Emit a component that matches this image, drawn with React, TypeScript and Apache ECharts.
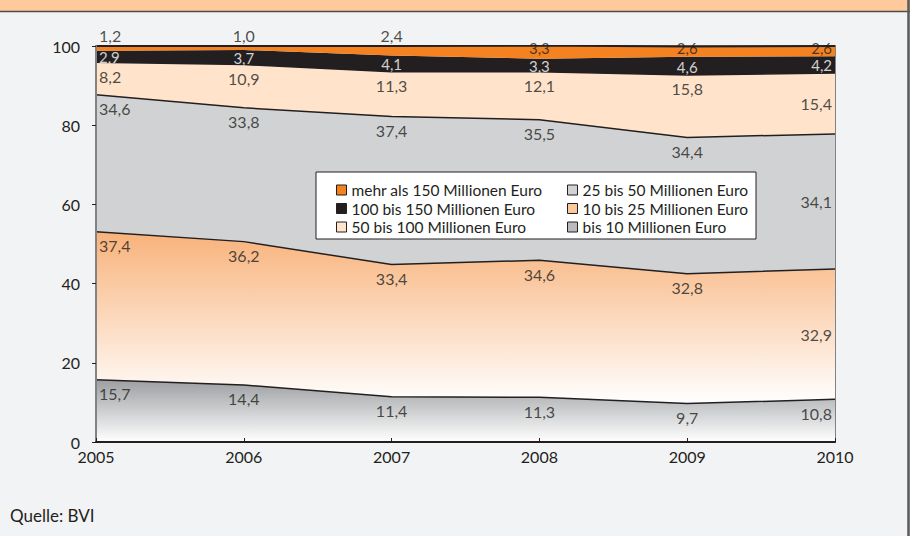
import React, { useEffect, useRef } from "react";
import * as echarts from "echarts";

const categories = ["2005", "2006", "2007", "2008", "2009", "2010"];
const bis10 = [15.7, 14.4, 11.4, 11.3, 9.7, 10.8];
const s10to25 = [37.4, 36.2, 33.4, 34.6, 32.8, 32.9];
const s25to50 = [34.6, 33.8, 37.4, 35.5, 34.4, 34.1];
const s50to100 = [8.2, 10.9, 11.3, 12.1, 15.8, 15.4];
const s100to150 = [2.9, 3.7, 4.1, 3.3, 4.6, 4.2];
const over150 = [1.2, 1.0, 2.4, 3.3, 2.6, 2.6];
const yTicks = [0, 20, 40, 60, 80, 100];

const names = [
  "bis 10 Millionen Euro",
  "10 bis 25 Millionen Euro",
  "25 bis 50 Millionen Euro",
  "50 bis 100 Millionen Euro",
  "100 bis 150 Millionen Euro",
  "mehr als 150 Millionen Euro",
];

const FONT = "Lato, 'Noto Sans', sans-serif";
const DARK = "#231f20";

export default function App() {
  const ref = useRef<HTMLDivElement>(null);

  useEffect(() => {
    if (!ref.current) return;
    const chart = echarts.init(ref.current, null, { renderer: "svg" });
    const bands = [bis10, s10to25, s25to50, s50to100, s100to150, over150];

    const fills: any[] = [
      new echarts.graphic.LinearGradient(0, 0, 0, 1, [
        { offset: 0, color: "#9c9ea1" },
        { offset: 1, color: "#ffffff" },
      ]),
      new echarts.graphic.LinearGradient(0, 0, 0, 1, [
        { offset: 0, color: "#f8b27a" },
        { offset: 1, color: "#ffffff" },
      ]),
      "#d1d2d4",
      "#ffe3cb",
      DARK,
      "#f58220",
    ];
    const legendColors = ["#b8babd", "#fbc89c", "#d1d2d4", "#ffe3cb", DARK, "#f58220"];
    const lineStyles = [
      { color: DARK, width: 1.5 },
      { color: DARK, width: 1.5 },
      { color: DARK, width: 1.5 },
      { color: DARK, width: 1.5 },
      { color: DARK, width: 0 },
      { color: DARK, width: 2 },
    ];

    const areaSeries = bands.map((vals, b) => ({
      name: names[b],
      type: "line",
      stack: "total",
      data: vals,
      symbol: "none",
      silent: true,
      lineStyle: lineStyles[b],
      areaStyle: { color: fills[b], opacity: 1 },
      itemStyle: { color: legendColors[b] },
      z: 2,
    }));

    const labelData: any[] = [];
    bands.forEach((vals, b) => {
      vals.forEach((v, j) => {
        let base = 0;
        for (let k = 0; k < b; k++) base += bands[k][j];
        const top = base + v;
        let y = top;
        let position = "bottom";
        let distance = 6;
        let fontSize = 16;
        let lineHeight = 16;
        let dy = 0;
        if (b === 4) {
          y = base + v / 2;
          position = "inside";
          fontSize = 15;
          lineHeight = 15;
          dy = 0.8;
        } else if (b === 5) {
          if (j <= 2) {
            position = "top";
            distance = 3;
          } else {
            position = "bottom";
            distance = -5.5;
            fontSize = 15;
            lineHeight = 15;
          }
        } else if (j === 5 && b >= 1) {
          y = base + v / 2;
          position = "inside";
        }
        const align = j === 0 ? "left" : j === 5 ? "right" : "center";
        labelData.push({
          value: [j, y],
          txt: v.toFixed(1).replace(".", ","),
          label: {
            position,
            distance,
            align,
            fontSize,
            lineHeight,
            offset: [j === 0 ? 3 : j === 5 ? -3 : 0, dy],
            color: b === 4 ? "#ffffff" : DARK,
          },
        });
      });
    });

    const legendLeft = [names[5], names[4], names[3]];
    const legendRight = [names[2], names[1], names[0]];
    const legendItem = (n: string) => {
      const b = names.indexOf(n);
      return {
        name: n,
        icon: "rect",
        itemStyle: { color: legendColors[b], borderColor: DARK, borderWidth: 1 },
      };
    };
    const legendCommon = {
      orient: "vertical",
      top: 177,
      itemWidth: 10,
      itemHeight: 10,
      itemGap: 2.5,
      selectedMode: false,
      z: 6,
      textStyle: { fontFamily: FONT, fontSize: 15.5, color: DARK, lineHeight: 15 },
    };

    chart.setOption({
      animation: false,
      backgroundColor: "#f2f3f5",
      grid: { left: 96, right: 75, top: 46, bottom: 94, containLabel: false, show: true, borderColor: "#808285", borderWidth: 2, backgroundColor: "transparent" },
      xAxis: {
        type: "category",
        data: categories,
        boundaryGap: false,
        axisLine: { lineStyle: { color: DARK, width: 2 } },
        axisTick: { show: true, inside: true, length: 4, lineStyle: { color: DARK } },
        axisLabel: { fontFamily: FONT, fontSize: 16, color: DARK, margin: 6 },
        z: 5,
      },
      yAxis: {
        type: "value",
        min: yTicks[0],
        max: yTicks[yTicks.length - 1],
        interval: 20,
        splitLine: { show: false },
        axisLine: { show: true, lineStyle: { color: "#808285", width: 2 } },
        axisTick: { show: true, length: 4, lineStyle: { color: DARK } },
        axisLabel: { fontFamily: FONT, fontSize: 16, color: DARK, margin: 16 },
        z: 5,
      },
      legend: [
        { ...legendCommon, left: 331, data: legendLeft.map(legendItem) },
        { ...legendCommon, left: 562, data: legendRight.map(legendItem) },
      ],
      graphic: [
        { type: "rect", left: 0, top: 0, shape: { width: 910, height: 11 }, style: { fill: "#fec99b" }, z: 10 },
        { type: "line", shape: { x1: 0, y1: 11.5, x2: 910, y2: 11.5 }, style: { stroke: "#4d4d4f", lineWidth: 1.5 }, z: 10 },
        { type: "line", shape: { x1: 908.5, y1: 0, x2: 908.5, y2: 536 }, style: { stroke: "#58595b", lineWidth: 2.5 }, z: 10 },
        { type: "rect", shape: { x: 316, y: 172, width: 440, height: 67 }, style: { fill: "#ffffff", stroke: DARK, lineWidth: 1 }, z: 4 },
        { type: "text", x: 10, y: 515, style: { text: "Quelle: BVI", font: `17px ${FONT}`, fill: DARK, textVerticalAlign: "middle" }, z: 10 },
      ],
      series: [
        ...areaSeries,
        {
          type: "scatter",
          data: labelData,
          symbolSize: 0,
          silent: true,
          clip: false,
          z: 3,
          label: {
            show: true,
            fontFamily: FONT,
            fontSize: 16,
            formatter: (p: any) => p.data.txt,
          },
        },
      ],
    });
    return () => chart.dispose();
  }, []);

  return (
    <div style={{ position: "absolute", left: 0, top: 0, width: 910, height: 536, background: "#f2f3f5" }}>
      <div ref={ref} style={{ width: 910, height: 536 }} />
    </div>
  );
}
